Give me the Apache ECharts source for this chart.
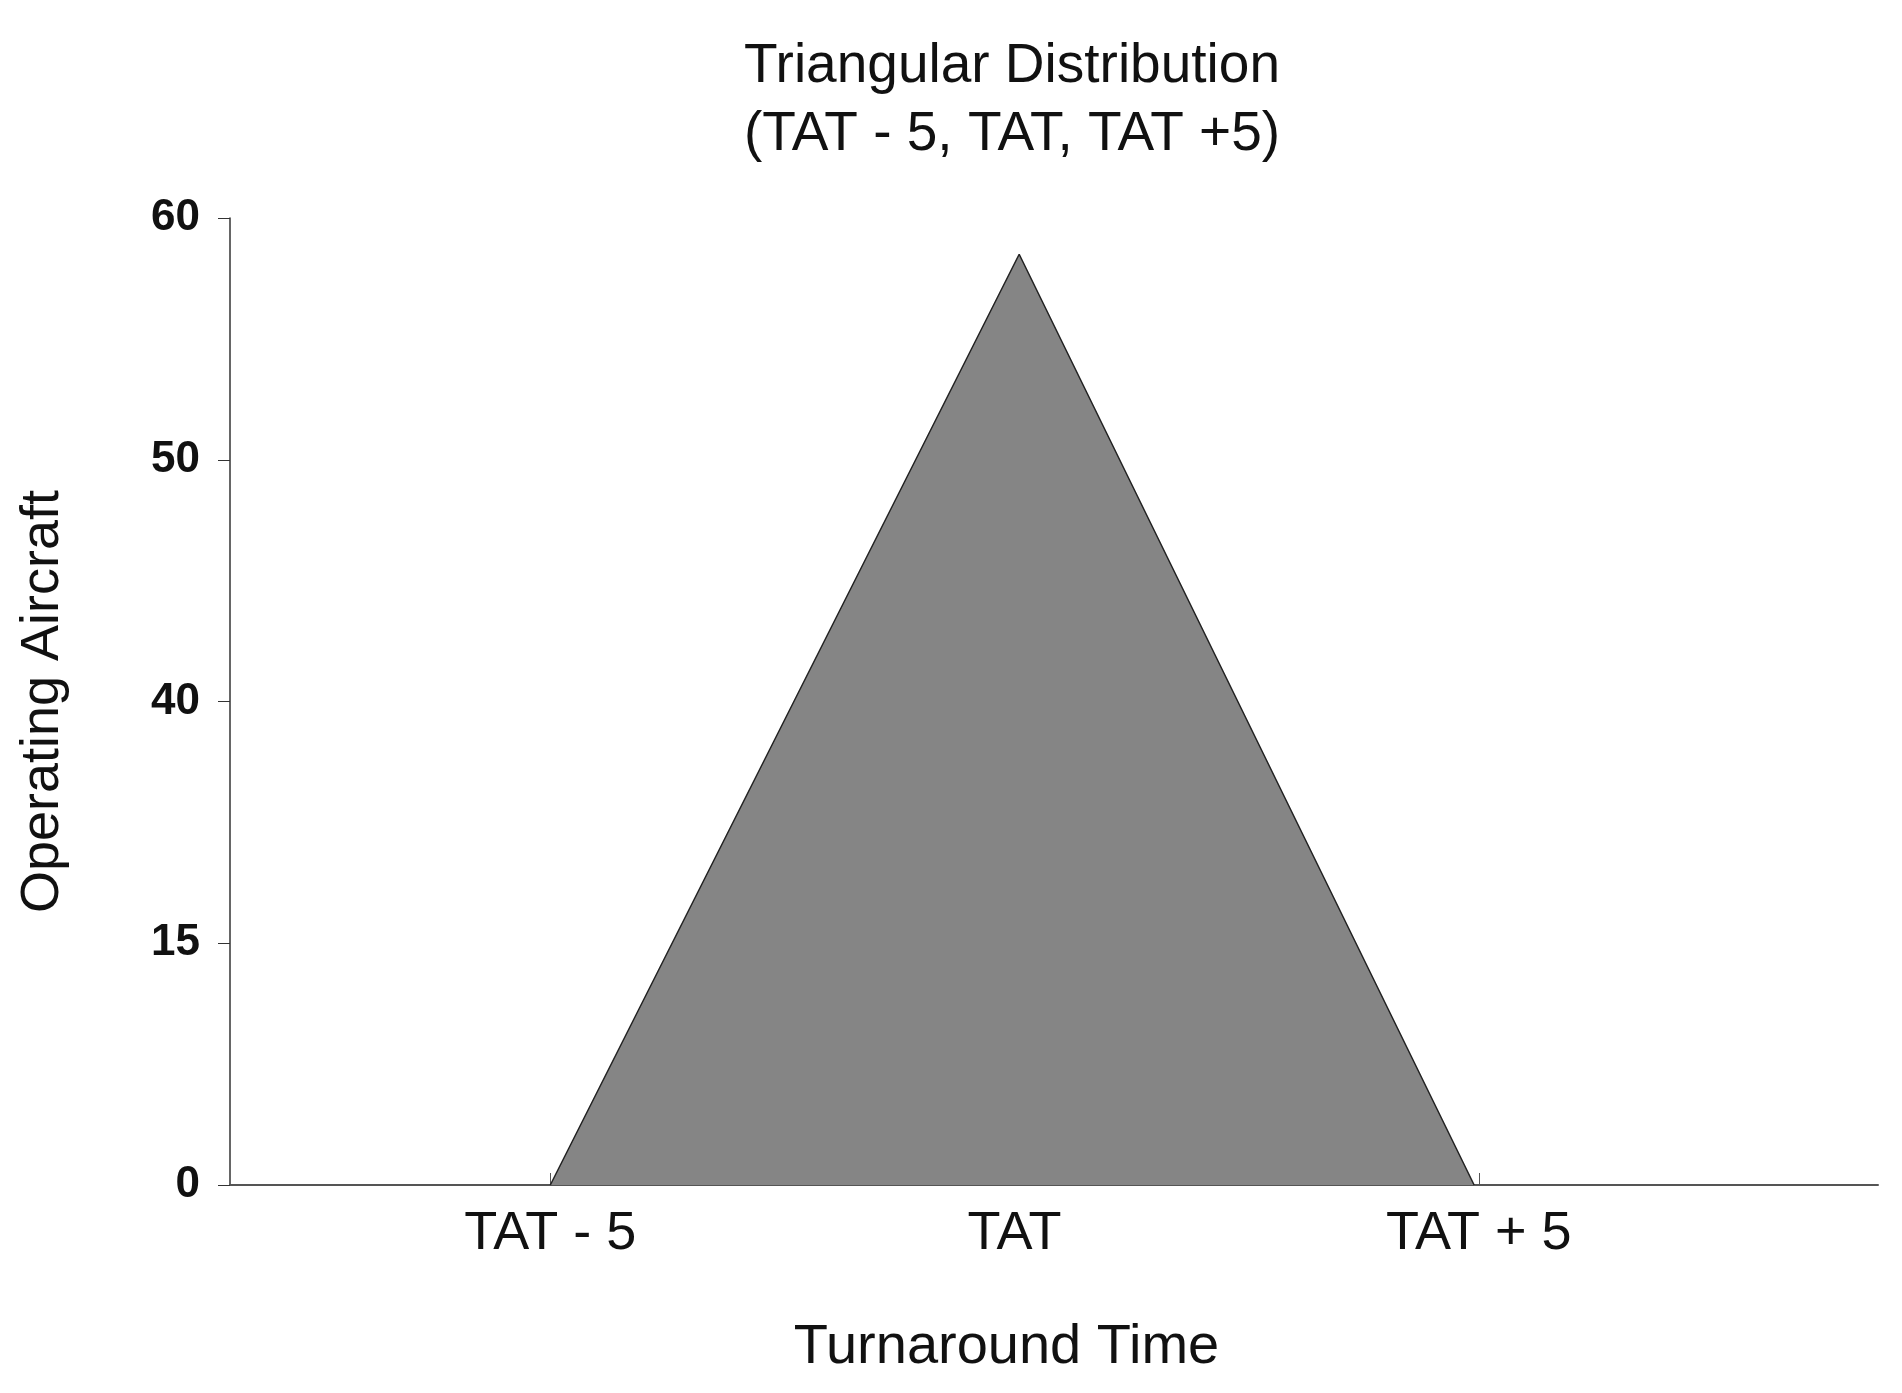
<!DOCTYPE html>
<html>
<head>
<meta charset="utf-8">
<script src="https://cdn.jsdelivr.net/npm/echarts@6/dist/echarts.min.js"></script>
<style>html,body{margin:0;background:#fff}#chart{width:1902px;height:1393px}</style>
</head>
<body>
<div id="chart"></div>
<script>
// y ticks are evenly spaced but labelled unevenly, so positions are indexes
var yTickLabels = ['0', '15', '40', '50', '60'];
var xTickValues = [-5, 0, 5];
var xTickLabels = ['TAT - 5', 'TAT', 'TAT + 5'];
var triX = [-5, 0.05, 4.95];
var triY = [0, 3.85, 0];

var chart = echarts.init(document.getElementById('chart'));
var data = triX.map(function (x, i) { return [x, triY[i]]; });

chart.setOption({
  animation: false,
  title: {
    text: 'Triangular Distribution\n(TAT - 5, TAT, TAT +5)',
    left: 1007, top: 28, textAlign: 'center',
    textStyle: { fontFamily: 'Liberation Sans', fontWeight: 'normal', fontSize: 55, lineHeight: 68, color: '#111' }
  },
  grid: { left: 230, right: 24, top: 218, bottom: 208 },
  xAxis: {
    type: 'value', min: -8.45, max: 9.3,
    name: 'Turnaround Time', nameLocation: 'middle', nameGap: 135,
    nameTextStyle: { fontFamily: 'Liberation Sans', fontSize: 56, color: '#111', padding: [0, 95, 0, 0] },
    splitLine: { show: false },
    axisLine: { lineStyle: { color: '#555', width: 2 } },
    axisTick: { inside: true, length: 12, customValues: xTickValues, lineStyle: { color: '#555' } },
    axisLabel: {
      customValues: xTickValues, margin: 22,
      fontFamily: 'Liberation Sans', fontSize: 54, color: '#111',
      formatter: function (v) { return xTickLabels[xTickValues.indexOf(v)]; }
    }
  },
  yAxis: {
    type: 'value', min: 0, max: 4, interval: 1,
    name: 'Operating Aircraft', nameLocation: 'middle', nameGap: 160, nameRotate: 90,
    nameTextStyle: { fontFamily: 'Liberation Sans', fontSize: 54, color: '#111' },
    splitLine: { show: false },
    axisLine: { show: true, onZero: false, lineStyle: { color: '#333', width: 1.5 } },
    axisTick: { show: true, length: 12, lineStyle: { color: '#333' } },
    axisLabel: {
      margin: 30, fontFamily: 'Liberation Sans', fontWeight: 'bold', fontSize: 44, color: '#111',
      formatter: function (v) { return yTickLabels[v]; }
    }
  },
  series: [{
    type: 'line', data: data, symbol: 'none',
    lineStyle: { color: '#222', width: 1.5 },
    areaStyle: { color: '#858585', opacity: 1 }
  }]
});
</script>
</body>
</html>
